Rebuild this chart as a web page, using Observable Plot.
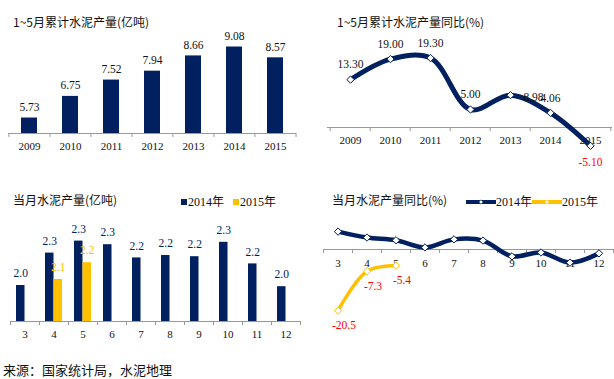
<!DOCTYPE html>
<html><head><meta charset="utf-8">
<script src="https://cdn.jsdelivr.net/npm/d3@7"></script>
<script src="https://cdn.jsdelivr.net/npm/@observablehq/plot@0.6"></script>
<style>
body{margin:0;background:#fff;}
#root{position:relative;width:614px;height:379px;overflow:hidden;font-family:"Noto Sans CJK SC",sans-serif;background:#fff;}
.t{position:absolute;font-size:12px;line-height:16px;color:#111;white-space:nowrap;}
.p{position:absolute;}
.p svg{overflow:visible;}
.lg{position:absolute;font-family:"Liberation Serif","Noto Sans CJK SC",serif;font-size:12px;line-height:14px;color:#111;white-space:nowrap;display:flex;align-items:center;}
</style></head><body><div id="root"></div>
<script>
// ---------- data ----------
const years = [2009, 2010, 2011, 2012, 2013, 2014, 2015];
const cumOutput = [5.73, 6.75, 7.52, 7.94, 8.66, 9.08, 8.57];
const cumYoY = [13.30, 19.00, 19.30, 5.00, 8.98, 4.06, -5.10];
const months = [3, 4, 5, 6, 7, 8, 9, 10, 11, 12];
const seriesNames = ["2014年", "2015年"];
const monthly2014 = [2.00, 2.27, 2.37, 2.34, 2.23, 2.25, 2.24, 2.36, 2.18, 1.99];
const monthly2014Labels = ["2.0", "2.3", "2.3", "2.3", "2.2", "2.2", "2.2", "2.3", "2.2", "2.0"];
const monthly2015 = [null, 2.05, 2.19, null, null, null, null, null, null, null];
const monthly2015Labels = [null, "2.1", "2.2", null, null, null, null, null, null, null];
const yoy2014 = [6.0, 4.0, 3.1, 0.7, 3.4, 3.0, -2.3, -1.0, -4.4, -1.3];
const yoy2015 = [-20.5, -7.3, -5.4, null, null, null, null, null, null, null];
const titles = ["1~5月累计水泥产量(亿吨)", "1~5月累计水泥产量同比(%)", "当月水泥产量(亿吨)", "当月水泥产量同比(%)"];
const source = "来源：国家统计局，水泥地理";

// ---------- style ----------
const NAVY = "#002060", GOLD = "#FFC000", RED = "#FF0000", AXIS = "#999999";
const root = document.getElementById("root");
const baseStyle = {fontFamily: "Liberation Serif, serif", fontSize: "11px", background: "transparent", color: "#111"};

function place(el, left, top) {
  const d = document.createElement("div");
  d.className = "p"; d.style.left = left + "px"; d.style.top = top + "px";
  d.appendChild(el); root.appendChild(d);
}
function label(text, left, top, cls = "t") {
  const d = document.createElement("div");
  d.className = cls; d.style.left = left + "px"; d.style.top = top + "px";
  d.textContent = text; root.appendChild(d); return d;
}
// tick marks at category boundaries, hanging below a baseline value
function boundaryTicks(cats, step, base, len) {
  return [
    Plot.ruleX(cats, {x: d => d, dx: -step / 2, y1: base, y2: base, insetBottom: -len, stroke: AXIS}),
    Plot.ruleX([cats[cats.length - 1]], {x: d => d, dx: step / 2, y1: base, y2: base, insetBottom: -len, stroke: AXIS})
  ];
}

// ---------- panel 1 ----------
{
  const data = years.map((y, i) => ({year: String(y), value: cumOutput[i]}));
  const cats = data.map(d => d.year);
  const W = 305, H = 155, ml = 8, mr = 9;
  const step = (W - ml - mr) / cats.length;
  const base = 5;
  place(Plot.plot({
    width: W, height: H, marginLeft: ml, marginRight: mr, marginTop: 27, marginBottom: 22,
    style: baseStyle,
    x: {type: "band", domain: cats, paddingInner: 0.61, paddingOuter: 0.305, axis: null},
    y: {domain: [base, 10], axis: null},
    marks: [
      Plot.barY(data, {x: "year", y1: base, y2: "value", fill: NAVY}),
      Plot.ruleY([base], {stroke: AXIS}),
      ...boundaryTicks(cats, step, base, 4),
      Plot.text(data, {x: "year", y: "value", text: d => d.value.toFixed(2), dy: -11, fill: "#111", fontSize: 11.5}),
      Plot.text(data, {x: "year", y: base, text: "year", dy: 13, fill: "#111", fontSize: 11})
    ]
  }), 0, 0);
  label(titles[0], 13, 14);
}

// ---------- panel 2 ----------
{
  const data = years.map((y, i) => ({year: String(y), value: cumYoY[i]}));
  const cats = data.map(d => d.year);
  const W = 309, H = 170, ml = 22, mr = 2;
  const step = (W - ml - mr) / cats.length;
  place(Plot.plot({
    width: W, height: H, marginLeft: ml, marginRight: mr, marginTop: 37, marginBottom: 7,
    style: baseStyle,
    x: {type: "band", domain: cats, padding: 0, axis: null},
    y: {domain: [-10, 25], axis: null},
    marks: [
      Plot.ruleY([0], {stroke: AXIS}),
      ...boundaryTicks(cats, step, 0, 4),
      Plot.text(data, {x: "year", y: 0, text: "year", dy: 13, fill: "#111", fontSize: 11}),
      Plot.line(data, {x: "year", y: "value", stroke: NAVY, strokeWidth: 5, curve: "catmull-rom"}),
      Plot.dot(data, {x: "year", y: "value", symbol: "diamond2", r: 3.3, fill: "white", stroke: NAVY, strokeWidth: 1}),
      Plot.text(data, {filter: d => d.value >= 0 && d.year !== "2013", x: "year", y: "value", text: d => d.value.toFixed(2), dy: -15, fill: "#111", fontSize: 11.5}),
      Plot.text(data, {filter: d => d.year === "2013", x: "year", y: "value", text: d => d.value.toFixed(2), dx: 23, dy: 2, fill: "#111", fontSize: 11.5}),
      Plot.text(data, {filter: d => d.value < 0, x: "year", y: "value", text: d => d.value.toFixed(2), dy: 16, fill: RED, fontSize: 11.5})
    ]
  }), 305, 0);
  label(titles[1], 337, 14);
}

// ---------- panel 3 ----------
{
  const d14 = months.map((m, i) => ({month: String(m), value: monthly2014[i], text: monthly2014Labels[i]}));
  const d15 = months.map((m, i) => ({month: String(m), value: monthly2015[i], text: monthly2015Labels[i]})).filter(d => d.value != null);
  const cats = months.map(String);
  const W = 305, H = 130, ml = 10, mr = 5;
  const step = (W - ml - mr) / cats.length;
  const pad = 0.414, bw = step * (1 - pad);
  const base = 1.7;
  place(Plot.plot({
    width: W, height: H, marginLeft: ml, marginRight: mr, marginTop: 10, marginBottom: 24,
    style: baseStyle,
    x: {type: "band", domain: cats, paddingInner: pad, paddingOuter: pad / 2, axis: null},
    y: {domain: [base, 2.5], axis: null},
    marks: [
      Plot.barY(d14, {x: "month", y1: base, y2: "value", fill: NAVY, insetRight: bw / 2}),
      Plot.barY(d15, {x: "month", y1: base, y2: "value", fill: GOLD, insetLeft: bw / 2}),
      Plot.ruleY([base], {stroke: AXIS}),
      ...boundaryTicks(cats, step, base, 4),
      Plot.text(d14, {x: "month", y: "value", text: "text", dx: -bw / 4, dy: -12, fill: NAVY, fontSize: 11.5}),
      Plot.text(d15, {x: "month", y: "value", text: "text", dx: bw / 4, dy: -12, fill: GOLD, fontSize: 11.5}),
      Plot.text(cats, {x: d => d, y: base, text: d => d, dy: 13, fill: "#111", fontSize: 11})
    ]
  }), 0, 215);
  label(titles[2], 13, 192);
  const lg = label("", 181, 195, "lg");
  [NAVY, GOLD].forEach((c, i) => {
    const sw = document.createElement("span");
    sw.style.cssText = `display:inline-block;width:6px;height:6px;background:${c};margin-right:1px;margin-left:${i ? 9 : 0}px`;
    lg.appendChild(sw);
    const tx = document.createElement("span"); tx.textContent = seriesNames[i]; lg.appendChild(tx);
  });
}

// ---------- panel 4 ----------
{
  const d14 = months.map((m, i) => ({month: String(m), value: yoy2014[i]}));
  const d15 = months.map((m, i) => ({month: String(m), value: yoy2015[i]})).filter(d => d.value != null);
  const cats = months.map(String);
  const W = 309, H = 125, ml = 18, mr = 1;
  const step = (W - ml - mr) / cats.length;
  place(Plot.plot({
    width: W, height: H, marginLeft: ml, marginRight: mr, marginTop: 4.2, marginBottom: 16.5,
    style: baseStyle,
    x: {type: "band", domain: cats, padding: 0, axis: null},
    y: {domain: [-25, 10], axis: null},
    marks: [
      Plot.ruleY([0], {stroke: AXIS}),
      ...boundaryTicks(cats, step, 0, 4),
      Plot.text(cats, {x: d => d, y: 0, text: d => d, dy: 14, fill: "#111", fontSize: 11}),
      Plot.line(d14, {x: "month", y: "value", stroke: NAVY, strokeWidth: 4.5, curve: "catmull-rom"}),
      Plot.line(d15, {x: "month", y: "value", stroke: GOLD, strokeWidth: 3.5, curve: "catmull-rom"}),
      Plot.dot(d14, {x: "month", y: "value", symbol: "diamond2", r: 3.3, fill: "white", stroke: NAVY, strokeWidth: 1}),
      Plot.dot(d15, {x: "month", y: "value", symbol: "diamond2", r: 3.3, fill: "white", stroke: GOLD, strokeWidth: 1}),
      Plot.text(d15, {x: "month", y: "value", text: d => d.value.toFixed(1), dx: 6, dy: 15, fill: RED, fontSize: 11.5})
    ]
  }), 305, 215);
  label(titles[3], 332, 192);
  const lg = label("", 466, 195, "lg");
  [NAVY, GOLD].forEach((c, i) => {
    const ns = "http://www.w3.org/2000/svg";
    const s = document.createElementNS(ns, "svg");
    s.setAttribute("width", 30); s.setAttribute("height", 8);
    s.innerHTML = `<line x1="0" y1="4" x2="30" y2="4" stroke="${c}" stroke-width="4" stroke-linecap="round"/>` +
      `<path d="M15,1.8L17.2,4L15,6.2L12.8,4Z" fill="white" stroke="${c}" stroke-width="0.6"/>`;
    lg.appendChild(s);
    const tx = document.createElement("span"); tx.textContent = seriesNames[i]; lg.appendChild(tx);
  });
}

// ---------- source ----------
const src = label(source, 3, 361);
src.style.fontSize = "13px"; src.style.lineHeight = "18px";
</script></body></html>
